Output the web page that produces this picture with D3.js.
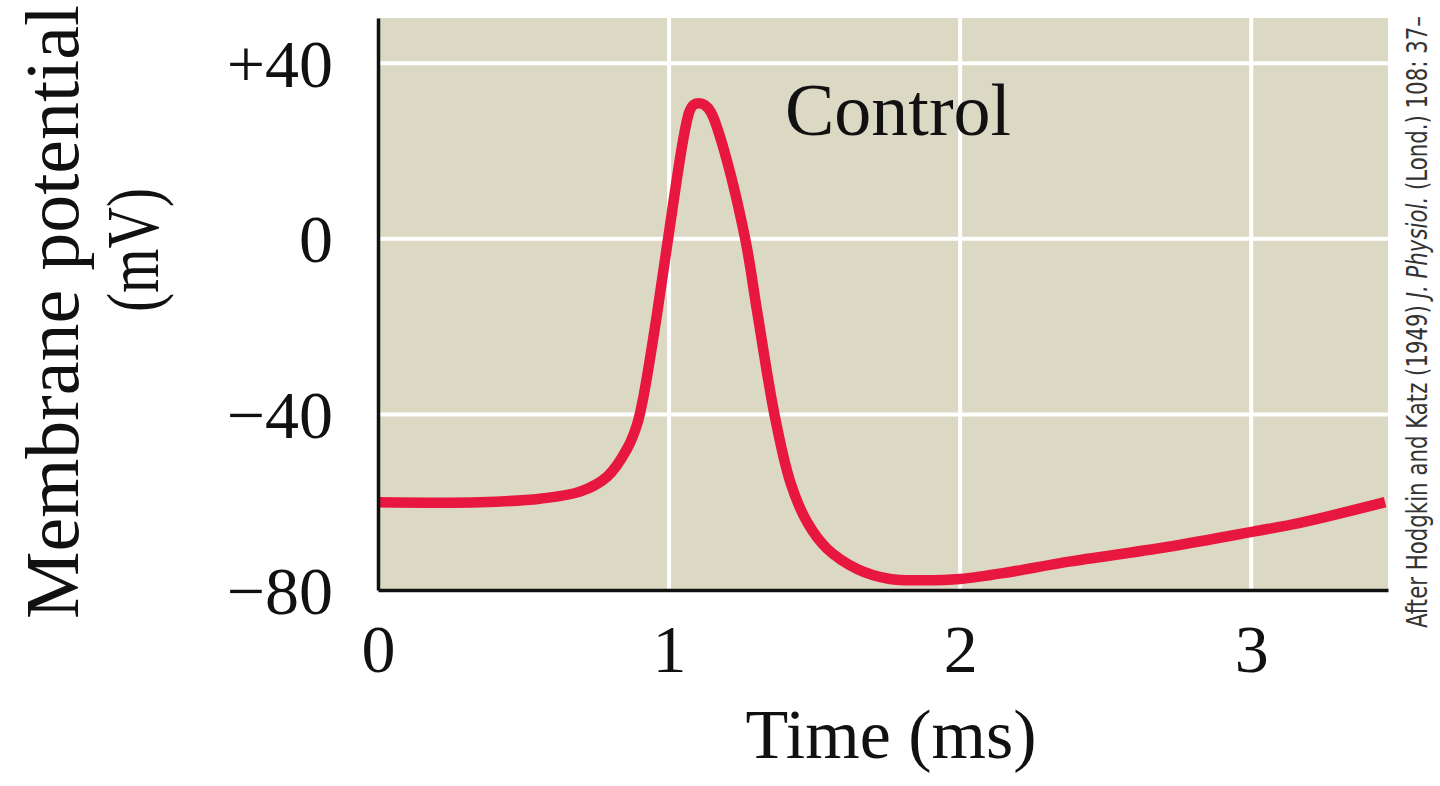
<!DOCTYPE html>
<html>
<head>
<meta charset="utf-8">
<script src="https://cdn.jsdelivr.net/npm/d3@7"></script>
<style>
  html, body { margin: 0; padding: 0; background: #fff; }
  svg { display: block; }
</style>
</head>
<body>
<div id="chart"></div>
<script>
// Control action potential
const timeMs = [0, 0.35, 0.557, 0.694, 0.787, 0.856, 0.89, 0.911, 0.955, 0.997, 1.048, 1.069, 1.082, 1.103,
  1.124, 1.144, 1.179, 1.261, 1.302, 1.362, 1.416, 1.474, 1.543, 1.646, 1.759, 1.863, 2.0, 2.172,
  2.368, 2.711, 3.007, 3.168, 3.46];
const voltage = [-60, -60, -59.2, -57.6, -54.2, -47.8, -42.3, -36.3, -18.7, 0.2, 22.4, 28.8, 30.4, 30.9,
  30.4, 28.8, 22.4, 0.2, -16.3, -40, -55.3, -64.5, -70.6, -75.2, -77.5, -77.8, -77.5, -75.9,
  -73.6, -70.2, -66.7, -64.7, -60];

const yTicks = [40, 0, -40, -80];
const yTickLabels = ['+40', '0', '\u221240', '\u221280'];
const xTicks = [0, 1, 2, 3];
const gridY = [40, 0, -40];
const gridX = [1, 2, 3];

const width = 1440, height = 786;
const margin = { top: 18, right: 52, bottom: 196, left: 378 };

const svg = d3.select('#chart').append('svg')
  .attr('width', width)
  .attr('height', height);

const x = d3.scaleLinear().domain([0, 3.47]).range([margin.left, width - margin.right]);
const y = d3.scaleLinear().domain([-80, 50.3]).range([height - margin.bottom, margin.top]);

const serif = '"Liberation Serif", "Times New Roman", serif';

// plot background
svg.append('rect')
  .attr('x', x(0))
  .attr('y', y(50.3))
  .attr('width', x(3.47) - x(0))
  .attr('height', y(-80) - y(50.3))
  .attr('fill', '#dbd9c4');

// white grid
svg.append('g').selectAll('line')
  .data(gridY)
  .join('line')
  .attr('x1', x(0)).attr('x2', x(3.47))
  .attr('y1', d => y(d)).attr('y2', d => y(d))
  .attr('stroke', '#fff').attr('stroke-width', 4);

svg.append('g').selectAll('line')
  .data(gridX)
  .join('line')
  .attr('x1', d => x(d)).attr('x2', d => x(d))
  .attr('y1', y(50.3)).attr('y2', y(-80))
  .attr('stroke', '#fff').attr('stroke-width', 4);

// trace
const line = d3.line()
  .x((d, i) => x(timeMs[i]))
  .y(d => y(d))
  .curve(d3.curveCatmullRom.alpha(0.5));

svg.append('path')
  .datum(voltage)
  .attr('fill', 'none')
  .attr('stroke', '#e8173f')
  .attr('stroke-width', 10.5)
  .attr('stroke-linejoin', 'round')
  .attr('d', line);

// axes
const yAxis = svg.append('g')
  .attr('transform', `translate(${x(0)},0)`)
  .call(d3.axisLeft(y).tickValues(yTicks).tickSize(0).tickPadding(45)
    .tickFormat((d, i) => yTickLabels[i]));

const xAxis = svg.append('g')
  .attr('transform', `translate(0,${y(-80)})`)
  .call(d3.axisBottom(x).tickValues(xTicks).tickSize(0).tickPadding(34)
    .tickFormat(d3.format('d')));

[yAxis, xAxis].forEach(g => {
  g.select('.domain').attr('stroke', '#111').attr('stroke-width', 3.5);
  g.selectAll('.tick text')
    .attr('fill', '#111')
    .style('font-family', serif)
    .style('font-size', '68px');
});
yAxis.selectAll('.tick text').attr('dy', '0.34em');
xAxis.selectAll('.tick text').attr('dy', '0.71em');

// labels
svg.append('text')
  .attr('x', 785).attr('y', 135)
  .attr('fill', '#111')
  .style('font-family', serif)
  .style('font-size', '74px')
  .text('Control');

svg.append('text')
  .attr('x', 891).attr('y', 758)
  .attr('text-anchor', 'middle')
  .attr('fill', '#111')
  .style('font-family', serif)
  .style('font-size', '70px')
  .text('Time (ms)');

svg.append('text')
  .attr('transform', 'translate(78,312) rotate(-90)')
  .attr('text-anchor', 'middle')
  .attr('fill', '#111')
  .style('font-family', serif)
  .style('font-size', '76px')
  .text('Membrane potential');

// squeeze a rotated text along its own direction so it spans `len` pixels
function fitAlong(sel, tx, ty, len) {
  const natural = sel.node().getComputedTextLength();
  sel.attr('transform', `translate(${tx},${ty}) rotate(-90) scale(${len / natural},1)`);
}

const unit = svg.append('text')
  .attr('text-anchor', 'middle')
  .attr('fill', '#111')
  .style('font-family', serif)
  .style('font-size', '74px')
  .text('(mV)');
fitAlong(unit, 158, 250, 124);

// source note
const note = svg.append('text')
  .attr('fill', '#333')
  .style('font-family', '"Liberation Sans Narrow", "DejaVu Sans Condensed", sans-serif')
  .style('font-size', '29px');
note.append('tspan').text('After Hodgkin and Katz (1949) ');
note.append('tspan').style('font-style', 'italic').text('J. Physiol.');
note.append('tspan').text(' (Lond.) 108: 37\u2013');
fitAlong(note, 1427, 628, 612);
</script>
</body>
</html>
